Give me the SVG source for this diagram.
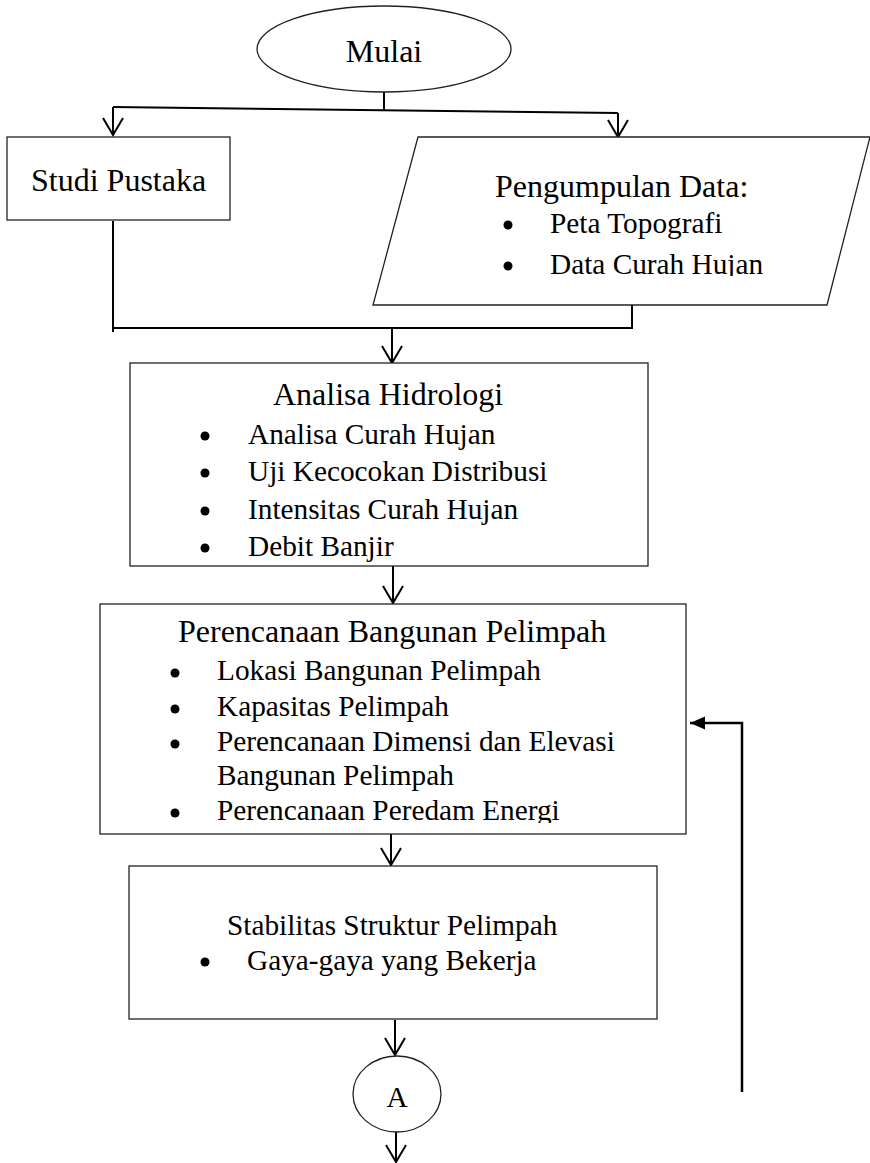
<svg xmlns="http://www.w3.org/2000/svg" width="870" height="1163" viewBox="0 0 870 1163">
<style>
.shape{fill:#fff;stroke:#222;stroke-width:1.3}
.t{font-family:"Liberation Serif","Times New Roman",serif;fill:#000}
.h{font-size:32px}
.b{font-size:29.3px}
.c{fill:none;stroke:#000;stroke-width:2}
.dot{fill:#000}
</style>
<defs>
<marker id="v" viewBox="-19 -12 21 24" refX="0" refY="0" markerWidth="21" markerHeight="24" markerUnits="userSpaceOnUse" orient="auto">
<path d="M-17,-10 L0,0 L-17,10" fill="none" stroke="#000" stroke-width="2"/>
</marker>
<marker id="f" viewBox="-16 -7 17 14" refX="0" refY="0" markerWidth="17" markerHeight="14" markerUnits="userSpaceOnUse" orient="auto">
<path d="M-15,-6.5 L0,0 L-15,6.5 Z" fill="#000"/>
</marker>
<clipPath id="clipData"><rect x="373" y="137" width="497" height="139"/></clipPath>
<clipPath id="clipPer"><rect x="100" y="604" width="586" height="219"/></clipPath>
</defs>

<g id="connectors">
<line class="c" x1="384" y1="86" x2="384" y2="111"/>
<line class="c" x1="113" y1="107" x2="618" y2="113"/>
<line class="c" x1="113" y1="107" x2="113" y2="135" marker-end="url(#v)"/>
<line class="c" x1="618" y1="113" x2="618" y2="137" marker-end="url(#v)"/>
<line class="c" x1="113" y1="221" x2="113" y2="332"/>
<line class="c" x1="632" y1="305" x2="632" y2="329"/>
<line class="c" x1="112" y1="328" x2="633" y2="328"/>
<line class="c" x1="392" y1="328" x2="392" y2="363" marker-end="url(#v)"/>
<line class="c" x1="393" y1="566" x2="393" y2="603" marker-end="url(#v)"/>
<line class="c" x1="391" y1="834" x2="391" y2="865" marker-end="url(#v)"/>
<line class="c" x1="395" y1="1020" x2="395" y2="1055" marker-end="url(#v)"/>
<line class="c" x1="396" y1="1132" x2="396" y2="1162" marker-end="url(#v)"/>
<polyline class="c" style="stroke-width:2.5" points="742,1092 742,723 690,723" marker-end="url(#f)"/>
</g>

<g id="mulai">
<ellipse class="shape" cx="384" cy="49" rx="127" ry="43"/>
<text class="t h" x="384" y="62" text-anchor="middle">Mulai</text>
</g>

<g id="studi-pustaka">
<rect class="shape" x="7" y="137" width="223" height="83"/>
<text class="t h" x="31" y="191">Studi Pustaka</text>
</g>

<g id="pengumpulan-data">
<polygon class="shape" points="418,137 870,137 827,305 373,305"/>
<text class="t h" x="495" y="197">Pengumpulan Data:</text>
<circle class="dot" cx="508" cy="225" r="4.5"/>
<text class="t b" x="550" y="233">Peta Topografi</text>
<circle class="dot" cx="508" cy="266" r="4.5"/>
<text class="t b" x="550" y="274" clip-path="url(#clipData)">Data Curah Hujan</text>
</g>

<g id="analisa-hidrologi">
<rect class="shape" x="130" y="363" width="518" height="203"/>
<text class="t h" x="273" y="405">Analisa Hidrologi</text>
<circle class="dot" cx="205" cy="436" r="4.5"/>
<text class="t b" x="248" y="444">Analisa Curah Hujan</text>
<circle class="dot" cx="205" cy="473" r="4.5"/>
<text class="t b" x="248" y="481">Uji Kecocokan Distribusi</text>
<circle class="dot" cx="205" cy="511" r="4.5"/>
<text class="t b" x="248" y="519">Intensitas Curah Hujan</text>
<circle class="dot" cx="205" cy="548" r="4.5"/>
<text class="t b" x="248" y="556">Debit Banjir</text>
</g>

<g id="perencanaan">
<rect class="shape" x="100" y="604" width="586" height="230"/>
<text class="t h" x="178" y="642">Perencanaan Bangunan Pelimpah</text>
<circle class="dot" cx="175" cy="673" r="4.5"/>
<text class="t b" x="217" y="680">Lokasi Bangunan Pelimpah</text>
<circle class="dot" cx="175" cy="709" r="4.5"/>
<text class="t b" x="217" y="716">Kapasitas Pelimpah</text>
<circle class="dot" cx="175" cy="744" r="4.5"/>
<text class="t b" x="217" y="751">Perencanaan Dimensi dan Elevasi</text>
<text class="t b" x="217" y="785">Bangunan Pelimpah</text>
<circle class="dot" cx="175" cy="813" r="4.5"/>
<text class="t b" x="217" y="820" clip-path="url(#clipPer)">Perencanaan Peredam Energi</text>
</g>

<g id="stabilitas">
<rect class="shape" x="129" y="866" width="528" height="153"/>
<text class="t b" x="227" y="935">Stabilitas Struktur Pelimpah</text>
<circle class="dot" cx="205" cy="962" r="4.5"/>
<text class="t b" x="247" y="970">Gaya-gaya yang Bekerja</text>
</g>

<g id="connector-a">
<ellipse class="shape" cx="397" cy="1094" rx="44" ry="38"/>
<text class="t b" x="397" y="1107" text-anchor="middle">A</text>
</g>
</svg>
